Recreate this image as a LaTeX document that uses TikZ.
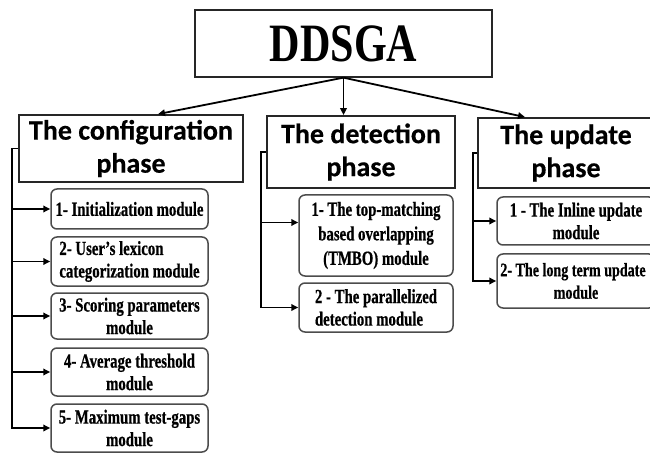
\documentclass[tikz,border=0pt]{standalone}
\usepackage{fontspec}
\usetikzlibrary{arrows.meta}
\setmainfont{Liberation Serif}
\newfontfamily\condfont[FakeStretch=0.74,FakeBold=0.6]{Liberation Serif}
\newfontfamily\titlefont[FakeStretch=0.78]{Liberation Serif}
\newfontfamily\phasefont[FakeBold=0.4]{Carlito}
\begin{document}
\begin{tikzpicture}[x=1pt,y=-1pt,
  phasebox/.style={draw=black!85, line width=1.8pt, font=\phasefont\bfseries\fontsize{28}{33}\selectfont, align=center, inner sep=0pt},
  modbox/.style={draw=black!70, line width=1.5pt, rounded corners=6pt, font=\condfont\bfseries\fontsize{20}{22.5}\selectfont, align=center, inner sep=0pt, minimum width=157pt},
  arr/.style={-{Triangle[length=7pt,width=6.5pt]}, line width=1.8pt},
  titlebox/.style={draw=black!85, line width=1.3pt, font=\titlefont\bfseries\fontsize{54}{54}\selectfont, inner sep=0pt}]
\useasboundingbox (0,0) rectangle (650,454);
\clip (0,0) rectangle (650,454);
\fill[white] (0,0) rectangle (650,454);
% title
\node[titlebox, minimum width=297pt, minimum height=67pt] (top) at (343.5,43.5) {DDSGA};
% phases
\node[phasebox, minimum width=224pt, minimum height=67pt] (cfg) at (131,148.5) {The configuration\\phase};
\node[phasebox, minimum width=188pt, minimum height=72pt] (det) at (361,152) {The detection\\phase};
\node[phasebox, minimum width=176pt, minimum height=70pt] (upd) at (566,153) {The update\\phase};
% top arrows
\draw[arr] (top.south) -- ([xshift=27pt]cfg.north);
\draw[arr] (top.south) -- (top.south |- det.north);
\draw[arr] (top.south) -- ([xshift=-41pt]upd.north);
% configuration modules
\node[modbox, minimum height=40pt] (m1) at (129.5,209) {1- Initialization module};
\node[modbox, minimum height=49pt, align=left] (m2) at (129.5,261.5) {2- User’s lexicon\\categorization module};
\node[modbox, minimum height=46pt] (m3) at (129.5,316) {3- Scoring parameters\\module};
\node[modbox, minimum height=48pt] (m4) at (129.5,372) {4- Average threshold\\module};
\node[modbox, minimum height=48pt] (m5) at (129.5,428) {5- Maximum test-gaps\\module};
\coordinate (ct) at (12,0);
\draw[arr] (cfg.west) -- (cfg.west -| ct) |- (m5.west);
\foreach \m in {m1,m2,m3,m4} \draw[arr] (\m.west -| ct) -- (\m.west);
% detection modules
\node[modbox, minimum width=154pt, minimum height=81pt, font=\condfont\bfseries\fontsize{20}{24.5}\selectfont] (d1) at (376,235.5) {1- The top-matching\\based overlapping\\(TMBO) module};
\node[modbox, minimum width=154pt, minimum height=49pt, align=left] (d2) at (376,307.5) {2 - The parallelized\\detection module};
\coordinate (dt) at (261,0);
\coordinate (d1in) at ([yshift=13pt]d1.west);
\draw[arr] (det.west) -- (det.west -| dt) |- (d2.west);
\draw[arr] (d1in -| dt) -- (d1in);
% update modules
\node[modbox, minimum width=158pt, minimum height=48pt] (u1) at (576,221) {1 - The Inline update\\module};
\node[modbox, minimum width=158pt, minimum height=54pt, font=\condfont\bfseries\fontsize{19}{22.5}\selectfont] (u2) at (576,281) {\hspace*{-6pt}2- The long term update\\module};
\coordinate (ut) at (473,0);
\draw[arr] (upd.west) -- (upd.west -| ut) |- (u2.west);
\draw[arr] (u1.west -| ut) -- (u1.west);
\end{tikzpicture}
\end{document}
